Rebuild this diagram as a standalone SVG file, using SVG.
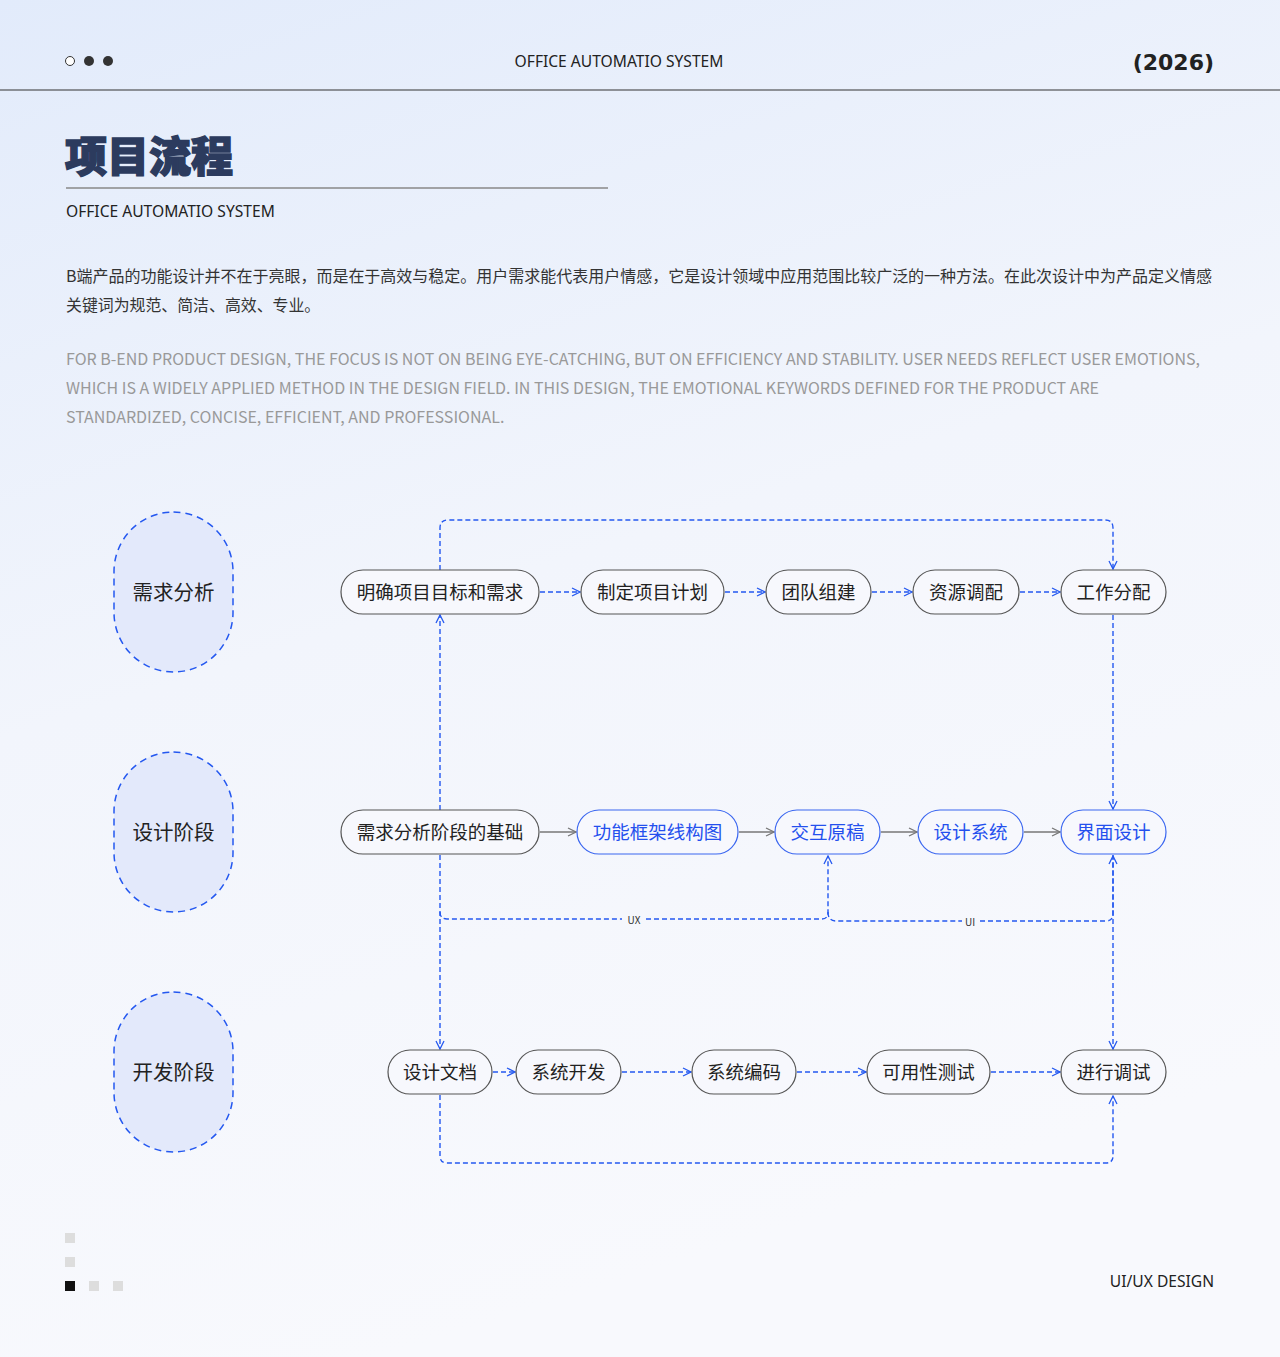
<svg xmlns="http://www.w3.org/2000/svg" width="1280" height="1357" viewBox="0 0 1280 1357">
<defs>
<linearGradient id="bg" x1="0" y1="0" x2="0.3" y2="1"><stop offset="0" stop-color="#e2ebfb"/><stop offset="0.5" stop-color="#f2f5fc"/><stop offset="1" stop-color="#f8f9fd"/></linearGradient>
<marker id="ab" viewBox="0 0 10 10" refX="9" refY="5" markerWidth="10" markerHeight="10" markerUnits="userSpaceOnUse" orient="auto"><path d="M1 1L9 5L1 9" fill="none" stroke="#2458f0" stroke-width="1.3"/></marker>
<marker id="ag" viewBox="0 0 10 10" refX="9" refY="5" markerWidth="10" markerHeight="10" markerUnits="userSpaceOnUse" orient="auto"><path d="M1 1L9 5L1 9" fill="none" stroke="#777" stroke-width="1.3"/></marker>
<style>
text{font-family:"Noto Sans CJK SC","Noto Sans",sans-serif}
.n rect{fill:#f7f8fd;stroke:#555;stroke-width:1.2}
.n text{font-size:18.5px;fill:#222;text-anchor:middle}
.b rect{stroke:#3a66f0}
.b text{fill:#2450ee}
.st rect{fill:#e3e9fb;stroke:#2458f0;stroke-width:1.5;stroke-dasharray:7 5}
.st text{font-size:20.5px;fill:#222;text-anchor:middle}
.d{fill:none;stroke:#2458f0;stroke-width:1.4;stroke-dasharray:5 3}
.g{fill:none;stroke:#777;stroke-width:1.3}
</style>
</defs>
<rect width="1280" height="1357" fill="url(#bg)"/>
<circle cx="70" cy="61" r="4.5" fill="#fff" stroke="#333"/>
<circle cx="89" cy="61" r="5" fill="#333"/>
<circle cx="108" cy="61" r="5" fill="#333"/>
<text x="619" y="67" font-size="15.6" fill="#222" text-anchor="middle" style="font-family:'Noto Sans',sans-serif">OFFICE AUTOMATIO SYSTEM</text>
<text x="1214" y="70" font-size="22" font-weight="900" fill="#222" text-anchor="end" style="font-family:'DejaVu Sans',sans-serif">(2026)</text>
<line x1="0" y1="90" x2="1280" y2="90" stroke="#333" stroke-width="1.2"/>
<text x="65" y="172" font-size="42" font-weight="900" fill="#2c3b5e" stroke="#2c3b5e" stroke-width="1.5">项目流程</text>
<line x1="66" y1="188" x2="608" y2="188" stroke="#888" stroke-width="1.5"/>
<text x="66" y="217" font-size="15.6" fill="#222" style="font-family:'Noto Sans',sans-serif">OFFICE AUTOMATIO SYSTEM</text>
<text x="66" y="282" font-size="15.9" fill="#333" textLength="1146" lengthAdjust="spacingAndGlyphs">B端产品的功能设计并不在于亮眼，而是在于高效与稳定。用户需求能代表用户情感，它是设计领域中应用范围比较广泛的一种方法。在此次设计中为产品定义情感</text>
<text x="66" y="311" font-size="15.9" fill="#333">关键词为规范、简洁、高效、专业。</text>
<g font-size="16" fill="#999" style="font-family:'Noto Sans',sans-serif">
<text x="66" y="365" textLength="1134" lengthAdjust="spacingAndGlyphs">FOR B-END PRODUCT DESIGN, THE FOCUS IS NOT ON BEING EYE-CATCHING, BUT ON EFFICIENCY AND STABILITY. USER NEEDS REFLECT USER EMOTIONS,</text>
<text x="66" y="394" textLength="1033" lengthAdjust="spacingAndGlyphs">WHICH IS A WIDELY APPLIED METHOD IN THE DESIGN FIELD. IN THIS DESIGN, THE EMOTIONAL KEYWORDS DEFINED FOR THE PRODUCT ARE</text>
<text x="66" y="423">STANDARDIZED, CONCISE, EFFICIENT, AND PROFESSIONAL.</text>
</g>
<g id="stages">
<g class="st" id="s1"><rect x="114" y="512" width="119" height="160" rx="59.5"/><text x="173.5" y="600">需求分析</text></g>
<g class="st" id="s2"><rect x="114" y="752" width="119" height="160" rx="59.5"/><text x="173.5" y="840">设计阶段</text></g>
<g class="st" id="s3"><rect x="114" y="992" width="119" height="160" rx="59.5"/><text x="173.5" y="1080">开发阶段</text></g>
</g>
<g id="connectors">
<path class="d" d="M440 570V528Q440 520 448 520H1105Q1113 520 1113 528V569" marker-end="url(#ab)"/>
<path class="d" d="M440 810V615" marker-end="url(#ab)"/>
<path class="d" d="M1113 615V809" marker-end="url(#ab)"/>
<path class="d" d="M440 855V1049" marker-end="url(#ab)"/>
<path class="d" d="M440 912Q440 919 447 919H622M646 919H822Q828 919 828 912V856" marker-end="url(#ab)"/>
<path class="d" d="M828 912Q828 921 836 921H962M980 921H1106Q1113 921 1113 914V856" marker-end="url(#ab)"/>
<path class="d" d="M1113 855V1049" marker-end="url(#ab)"/>
<path class="d" d="M440 1095V1156Q440 1163 447 1163H1106Q1113 1163 1113 1156V1096" marker-end="url(#ab)"/>
<text x="634" y="924" font-size="10" fill="#333" text-anchor="middle">UX</text>
<text x="970" y="926" font-size="10" fill="#333" text-anchor="middle">UI</text>
<path class="d" d="M540 592H580" marker-end="url(#ab)"/>
<path class="d" d="M725 592H765" marker-end="url(#ab)"/>
<path class="d" d="M872 592H912" marker-end="url(#ab)"/>
<path class="d" d="M1020 592H1060" marker-end="url(#ab)"/>
<path class="g" d="M540 832H576" marker-end="url(#ag)"/>
<path class="g" d="M739 832H774" marker-end="url(#ag)"/>
<path class="g" d="M881 832H917" marker-end="url(#ag)"/>
<path class="g" d="M1024 832H1060" marker-end="url(#ag)"/>
<path class="d" d="M493 1072H515" marker-end="url(#ab)"/>
<path class="d" d="M622 1072H691" marker-end="url(#ab)"/>
<path class="d" d="M797 1072H866" marker-end="url(#ab)"/>
<path class="d" d="M991 1072H1060" marker-end="url(#ab)"/>
</g>
<g id="r1">
<g class="n" id="n11"><rect x="341" y="570" width="198" height="44" rx="22"/><text x="440" y="599">明确项目目标和需求</text></g>
<g class="n" id="n12"><rect x="581" y="570" width="143" height="44" rx="22"/><text x="652.5" y="599">制定项目计划</text></g>
<g class="n" id="n13"><rect x="766" y="570" width="105" height="44" rx="22"/><text x="818.5" y="599">团队组建</text></g>
<g class="n" id="n14"><rect x="913" y="570" width="106" height="44" rx="22"/><text x="966" y="599">资源调配</text></g>
<g class="n" id="n15"><rect x="1061" y="570" width="105" height="44" rx="22"/><text x="1113.5" y="599">工作分配</text></g>
</g>
<g id="r2">
<g class="n" id="n21"><rect x="341" y="810" width="198" height="44" rx="22"/><text x="440" y="839">需求分析阶段的基础</text></g>
<g class="n b" id="n22"><rect x="577" y="810" width="161" height="44" rx="22"/><text x="657.5" y="839">功能框架线构图</text></g>
<g class="n b" id="n23"><rect x="775" y="810" width="105" height="44" rx="22"/><text x="827.5" y="839">交互原稿</text></g>
<g class="n b" id="n24"><rect x="918" y="810" width="105" height="44" rx="22"/><text x="970.5" y="839">设计系统</text></g>
<g class="n b" id="n25"><rect x="1061" y="810" width="105" height="44" rx="22"/><text x="1113.5" y="839">界面设计</text></g>
</g>
<g id="r3">
<g class="n" id="n31"><rect x="388" y="1050" width="104" height="44" rx="22"/><text x="440" y="1079">设计文档</text></g>
<g class="n" id="n32"><rect x="516" y="1050" width="105" height="44" rx="22"/><text x="568.5" y="1079">系统开发</text></g>
<g class="n" id="n33"><rect x="692" y="1050" width="104" height="44" rx="22"/><text x="744" y="1079">系统编码</text></g>
<g class="n" id="n34"><rect x="867" y="1050" width="123" height="44" rx="22"/><text x="928.5" y="1079">可用性测试</text></g>
<g class="n" id="n35"><rect x="1061" y="1050" width="105" height="44" rx="22"/><text x="1113.5" y="1079">进行调试</text></g>
</g>
<rect x="65" y="1233" width="10" height="10" fill="#ddd"/>
<rect x="65" y="1257" width="10" height="10" fill="#ddd"/>
<rect x="65" y="1281" width="10" height="10" fill="#111"/>
<rect x="89" y="1281" width="10" height="10" fill="#ddd"/>
<rect x="113" y="1281" width="10" height="10" fill="#ddd"/>
<text x="1214" y="1287" font-size="15.6" fill="#222" text-anchor="end" style="font-family:'Noto Sans',sans-serif">UI/UX DESIGN</text>
</svg>
